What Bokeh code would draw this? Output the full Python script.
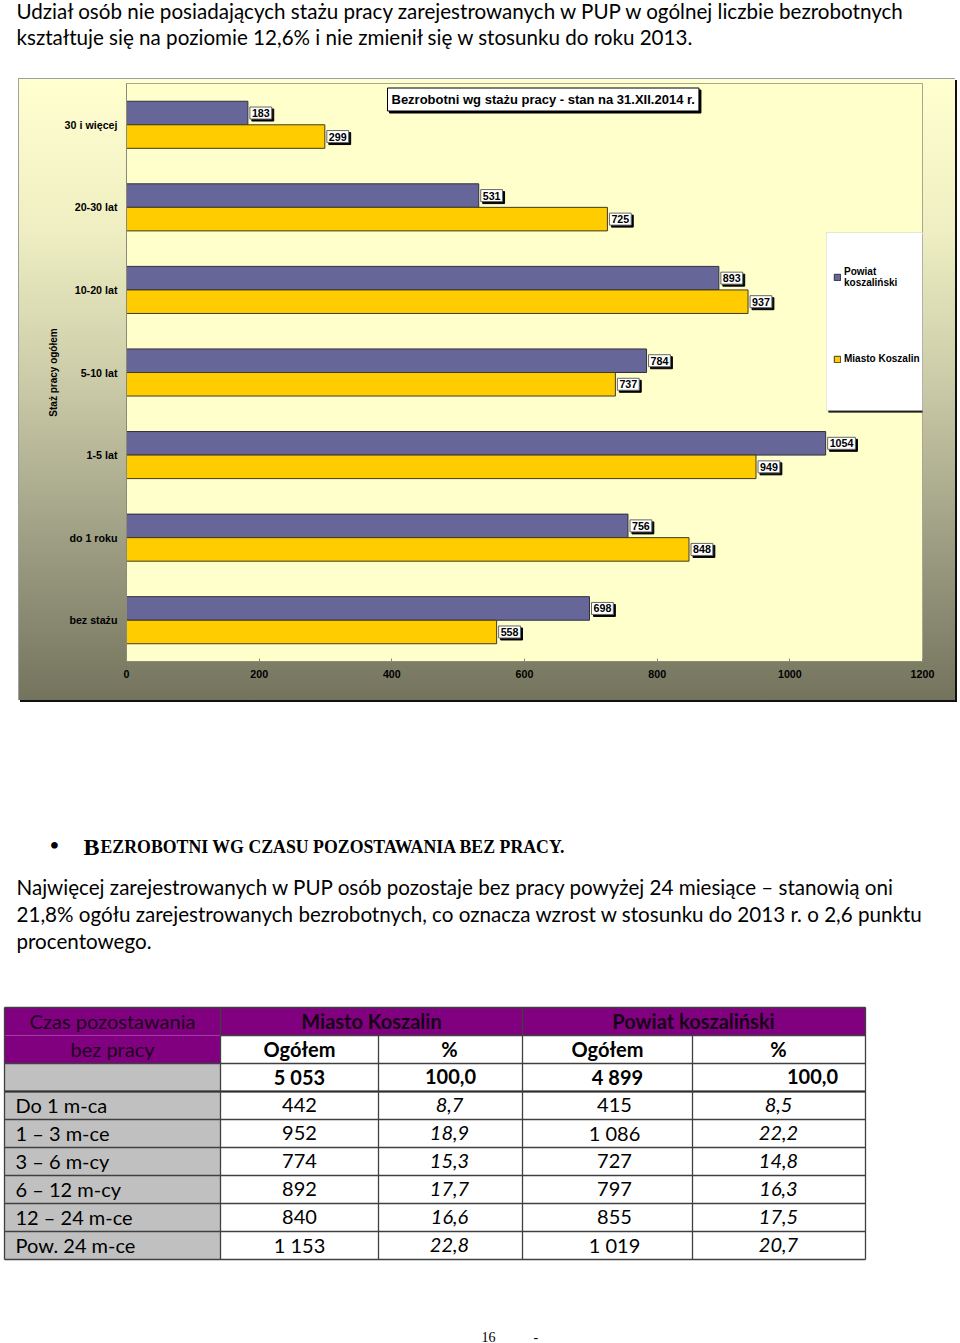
from bokeh.plotting import figure
from bokeh.models import (Range1d, FixedTicker, Legend, LegendItem, Label,
                          BoxAnnotation, Spacer, ColumnDataSource)
from bokeh.layouts import column, row
from bokeh.embed import file_html
from bokeh.resources import INLINE
from bokeh.core.properties import value

# ---------------- data ----------------
intro_lines = [
    "Udział osób nie posiadających stażu pracy zarejestrowanych w PUP  w ogólnej liczbie bezrobotnych",
    "kształtuje się na poziomie 12,6% i nie zmienił się w stosunku do roku 2013.",
]
chart_title = "Bezrobotni wg stażu pracy - stan na 31.XII.2014 r."
seniority = ["30 i więcej", "20-30 lat", "10-20 lat", "5-10 lat", "1-5 lat", "do 1 roku", "bez stażu"]
powiat = [183, 531, 893, 784, 1054, 756, 698]
miasto = [299, 725, 937, 737, 949, 848, 558]
series_names = ["Powiat\nkoszaliński", "Miasto Koszalin"]
x_ticks = [0, 200, 400, 600, 800, 1000, 1200]
y_axis_title = "Staż pracy ogółem"

heading_first = "B"
heading_rest = "EZROBOTNI WG CZASU POZOSTAWANIA BEZ PRACY."
para_lines = [
    "Najwięcej zarejestrowanych w PUP osób pozostaje bez  pracy powyżej 24  miesiące – stanowią oni",
    "21,8% ogółu zarejestrowanych bezrobotnych, co oznacza wzrost w stosunku do 2013 r. o 2,6 punktu",
    "procentowego.",
]

table_head_col0 = ["Czas pozostawania", "bez pracy"]
table_groups = ["Miasto Koszalin", "Powiat koszaliński"]
table_subheads = ["Ogółem", "%", "Ogółem", "%"]
durations = ["Do 1 m-ca", "1 – 3 m-ce", "3 – 6 m-cy", "6 – 12 m-cy", "12 – 24 m-ce", "Pow. 24 m-ce"]
miasto_total = 5053
miasto_total_pct = 100.0
miasto_n = [442, 952, 774, 892, 840, 1153]
miasto_pct = [8.7, 18.9, 15.3, 17.7, 16.6, 22.8]
powiat_total = 4899
powiat_total_pct = 100.0
powiat_n = [415, 1086, 727, 797, 855, 1019]
powiat_pct = [8.5, 22.2, 14.8, 16.3, 17.5, 20.7]
page_number = "16"

BODY_FONT = "Lato"
BODY_SIZE = "20.6px"
TABLE_SIZE = "20px"
ARIAL = "Liberation Sans"
SERIF = "Liberation Serif"
CH_SIZE = "10.7px"


def fmt_int(n):
    return f"{n:,}".replace(",", " ")


def fmt_pct(p):
    return f"{p:.1f}".replace(".", ",")


def blank(w, h):
    p = figure(width=w, height=h, x_range=Range1d(0, w), y_range=Range1d(h, 0),
               output_backend="svg", toolbar_location=None, title=None,
               x_axis_type=None, y_axis_type=None, min_border=0)
    p.outline_line_color = None
    p.background_fill_color = "white"
    p.border_fill_color = "white"
    return p


# ---------------- top text ----------------
top = blank(960, 78)
top.text(x=[16, 16], y=[10, 36], text=intro_lines, text_font=value(BODY_FONT),
         text_font_size=BODY_SIZE, text_baseline="alphabetic", text_color="black")

# ---------------- chart ----------------
chart = figure(width=937, height=622, x_range=Range1d(0, 1200), y_range=Range1d(-0.5, 6.5),
               output_backend="svg", toolbar_location=None, title=None,
               min_border_left=108, min_border_right=33, min_border_top=5, min_border_bottom=39)
chart.border_fill_color = None
chart.background_fill_color = "#FFFFCC"
chart.outline_line_color = "#A8A890"
chart.xgrid.visible = False
chart.ygrid.visible = False
chart.styles = {
    "background": "linear-gradient(to bottom, #FFFFD0 0%, #EEEEC2 25%, #C9C9A7 50%, #9D9D83 75%, #74745E 100%)",
    "box-shadow": "inset 1px 1px 0 #A0A0A0, 2px 2px 0 #111111",
}

n = len(seniority)
centers = [n - 1 - i for i in range(n)]
bar_h = 0.285
src_p = ColumnDataSource(dict(y=[c + bar_h / 2 for c in centers], v=powiat, lab=[str(v) for v in powiat]))
src_m = ColumnDataSource(dict(y=[c - bar_h / 2 for c in centers], v=miasto, lab=[str(v) for v in miasto]))
rp = chart.hbar(y="y", right="v", left=0, height=bar_h, source=src_p,
                fill_color="#666699", line_color="#2F2F3F", line_width=1)
rm = chart.hbar(y="y", right="v", left=0, height=bar_h, source=src_m,
                fill_color="#FFCC00", line_color="#3F3A20", line_width=1)

for src in (src_p, src_m):
    chart.text(x="v", y="y", text="lab", source=src, x_offset=4, y_offset=2,
               text_align="left", text_baseline="middle", text_font=value(ARIAL),
               text_font_style="bold", text_font_size=CH_SIZE, text_color="black",
               padding=2, background_fill_color="black", border_line_color="black")
    chart.text(x="v", y="y", text="lab", source=src, x_offset=2, y_offset=0,
               text_align="left", text_baseline="middle", text_font=value(ARIAL),
               text_font_style="bold", text_font_size=CH_SIZE, text_color="black",
               padding=2, background_fill_color="white", border_line_color="#666666",
               border_line_width=1)

yax = chart.yaxis[0]
yax.ticker = FixedTicker(ticks=centers)
yax.major_label_overrides = {c: s for c, s in zip(centers, seniority)}
yax.major_tick_line_color = None
yax.minor_tick_line_color = None
yax.major_label_standoff = 3
yax.axis_line_color = "#8A8A78"
yax.major_label_text_font = ARIAL
yax.major_label_text_font_style = "bold"
yax.major_label_text_font_size = CH_SIZE
yax.major_label_text_color = "black"
yax.axis_label = y_axis_title
yax.axis_label_text_font = ARIAL
yax.axis_label_text_font_style = "bold"
yax.axis_label_text_font_size = "10px"
yax.axis_label_text_color = "black"
yax.axis_label_standoff = 3

xax = chart.xaxis[0]
xax.ticker = FixedTicker(ticks=x_ticks)
xax.major_tick_in = 3
xax.major_tick_out = 0
xax.major_tick_line_color = "#8A8A78"
xax.minor_tick_line_color = None
xax.axis_line_color = "#8A8A78"
xax.major_label_standoff = 8
xax.major_label_text_font = ARIAL
xax.major_label_text_font_style = "bold"
xax.major_label_text_font_size = CH_SIZE
xax.major_label_text_color = "black"

# title box with shadow
ux = 1200 / 796.0
uy = 1 / 82.571
title_x = (387 - 126) * ux
title_y = 6.5 - (99 - 83) * uy
for dx, dy, bg in ((2, -2, "black"), (0, 0, "white")):
    chart.add_layout(Label(x=title_x, y=title_y, text=chart_title, x_offset=dx, y_offset=dy,
                           text_font=ARIAL, text_font_style="bold", text_font_size="13px",
                           text_color="black", text_baseline="middle", padding=4,
                           background_fill_color=bg, border_line_color="black"))

# legend box with shadow
lb_l, lb_r = (826 - 126) * ux, (930 - 126) * ux
lb_t, lb_b = 6.5 - (232 - 83) * uy, 6.5 - (410 - 83) * uy
chart.add_layout(BoxAnnotation(left=lb_l + 2 * ux, right=lb_r + 2 * ux, top=lb_t - 2 * uy,
                               bottom=lb_b - 2 * uy, fill_color="#222222", fill_alpha=1,
                               line_color="#222222"))
chart.add_layout(BoxAnnotation(left=lb_l, right=lb_r, top=lb_t, bottom=lb_b,
                               fill_color="white", fill_alpha=1, line_color="#B0B0B0"))
legend = Legend(items=[LegendItem(label=series_names[0], renderers=[rp]),
                       LegendItem(label=series_names[1], renderers=[rm])],
                location=(707, 297), padding=0, margin=0, spacing=65,
                glyph_width=8, glyph_height=8, label_standoff=3,
                label_text_font=ARIAL, label_text_font_style="bold",
                label_text_font_size="10px", label_text_color="black",
                background_fill_alpha=0, border_line_color=None)
chart.add_layout(legend)

chart_row = row([Spacer(width=18, height=625), chart])

# ---------------- middle text ----------------
MID0 = 703
mid = blank(960, 302)
mid.text(x=[54], y=[845 - MID0], text=["•"], text_font=value(SERIF), text_font_size="28px",
         text_align="center", text_baseline="alphabetic", text_color="black")
mid.text(x=[83], y=[846.5 - MID0], text=[heading_first], text_font=value(SERIF),
         text_font_style="bold", text_font_size="24px", text_baseline="alphabetic", text_color="black")
mid.text(x=[100], y=[846.5 - MID0], text=[heading_rest], text_font=value(SERIF),
         text_font_style="bold", text_font_size="17.8px", text_baseline="alphabetic", text_color="black")
mid.text(x=[16, 16, 16], y=[886.5 - MID0, 913.5 - MID0, 940.5 - MID0], text=para_lines,
         text_font=value(BODY_FONT), text_font_size=BODY_SIZE, text_baseline="alphabetic",
         text_color="black")

# ---------------- table ----------------
T0 = 1005
tab = blank(960, 338)
col_edges = [4, 220, 378, 522, 692, 865]
row_edges = [1007 + 28 * k for k in range(10)]
ye = [r - T0 for r in row_edges]

PURPLE = "#800080"
GREY = "#C0C0C0"
tab.quad(left=[col_edges[0], col_edges[0]], right=[col_edges[5], col_edges[1]],
         top=[ye[0], ye[1]], bottom=[ye[1], ye[2]], fill_color=PURPLE, line_color=None)
tab.quad(left=[col_edges[1]], right=[col_edges[5]], top=[ye[1]], bottom=[ye[2]],
         fill_color="white", line_color=None)
tab.quad(left=[col_edges[0]], right=[col_edges[1]], top=[ye[2]], bottom=[ye[9]],
         fill_color=GREY, line_color=None)

hx0, hx1, hy = [col_edges[0], col_edges[1]], [col_edges[5], col_edges[5]], [ye[0], ye[1]]
for k in range(2, 10):
    hx0.append(col_edges[0]); hx1.append(col_edges[5]); hy.append(ye[k])
tab.segment(x0=hx0, x1=hx1, y0=hy, y1=hy, line_color="#404040", line_width=1.3)
tab.segment(x0=[col_edges[0]], x1=[col_edges[5]], y0=[ye[3]], y1=[ye[3]],
            line_color="#303030", line_width=2)
vx = list(col_edges)
vy0 = [ye[0], ye[0], ye[1], ye[0], ye[1], ye[0]]
tab.segment(x0=vx, x1=vx, y0=vy0, y1=[ye[9]] * 6, line_color="#404040", line_width=1.3)


def row_y(k):
    return ye[k] + 13


tab.text(x=[112, 112], y=[row_y(0), row_y(1)], text=table_head_col0,
         text_font=value(BODY_FONT), text_font_size=TABLE_SIZE, text_align="center",
         text_baseline="alphabetic", text_color="#1C001C")
tab.text(x=[371, 693], y=[row_y(0)] * 2, text=table_groups, text_font=value(BODY_FONT),
         text_font_style="bold", text_font_size=TABLE_SIZE, text_align="center",
         text_baseline="alphabetic", text_color="#160016")
tab.text(x=[299, 449, 607, 778], y=[row_y(1)] * 4, text=table_subheads,
         text_font=value(BODY_FONT), text_font_style="bold", text_font_size=TABLE_SIZE,
         text_align="center", text_baseline="alphabetic", text_color="black")
tab.text(x=[299, 450, 617, 812], y=[row_y(2)] * 4,
         text=[fmt_int(miasto_total), fmt_pct(miasto_total_pct), fmt_int(powiat_total), fmt_pct(powiat_total_pct)],
         text_font=value(BODY_FONT), text_font_style="bold", text_font_size=TABLE_SIZE,
         text_align="center", text_baseline="alphabetic", text_color="black")
ys = [row_y(3 + i) for i in range(len(durations))]
tab.text(x=[15] * len(durations), y=ys, text=durations, text_font=value(BODY_FONT),
         text_font_size=TABLE_SIZE, text_baseline="alphabetic", text_color="black")
tab.text(x=[299] * len(ys), y=ys, text=[fmt_int(v) for v in miasto_n], text_font=value(BODY_FONT),
         text_font_size=TABLE_SIZE, text_align="center", text_baseline="alphabetic", text_color="black")
tab.text(x=[449] * len(ys), y=ys, text=[fmt_pct(v) for v in miasto_pct], text_font=value(BODY_FONT),
         text_font_style="italic", text_font_size=TABLE_SIZE, text_align="center",
         text_baseline="alphabetic", text_color="black")
tab.text(x=[614] * len(ys), y=ys, text=[fmt_int(v) for v in powiat_n], text_font=value(BODY_FONT),
         text_font_size=TABLE_SIZE, text_align="center", text_baseline="alphabetic", text_color="black")
tab.text(x=[778] * len(ys), y=ys, text=[fmt_pct(v) for v in powiat_pct], text_font=value(BODY_FONT),
         text_font_style="italic", text_font_size=TABLE_SIZE, text_align="center",
         text_baseline="alphabetic", text_color="black")

tab.text(x=[481, 533], y=[1336 - T0] * 2, text=[page_number, "-"], text_font=value(SERIF),
         text_font_size="14px", text_baseline="alphabetic", text_color="black")

layout = column([top, chart_row, mid, tab], spacing=0)

open("out.html", "w").write(file_html(layout, INLINE))
